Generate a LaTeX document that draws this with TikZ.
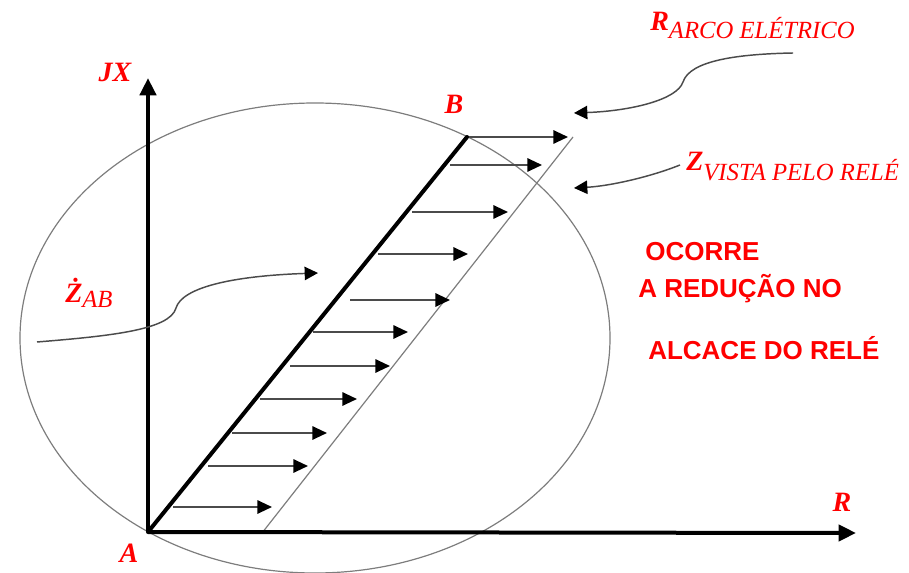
\documentclass[tikz,border=0pt]{standalone}
\usepackage{fontspec}
\setmainfont{Liberation Serif}
\setsansfont{Liberation Sans}
\usepackage{xcolor}
\usepackage{tikz}
\usetikzlibrary{arrows.meta}
\definecolor{lblred}{RGB}{255,0,0}
\definecolor{soft}{RGB}{75,75,75}
\definecolor{thin}{RGB}{125,125,125}
\newcommand{\lowsub}[2][6pt]{\raisebox{-#1}{\fontsize{18.5}{18.5}\selectfont\mdseries #2}}

\begin{document}
\begin{tikzpicture}[x=0.75pt,y=-0.75pt,
  ax/.style={-{Triangle[length=13pt,width=12pt]},line width=3pt},
  hv/.style={-{Triangle[length=11pt,width=10pt,color=black]},line width=1.5pt,color=soft},
  cv/.style={line width=1.1pt,color=soft},
  fine/.style={line width=0.9pt,color=thin},
  lbl/.style={text=lblred,font=\fontsize{21}{21}\selectfont\itshape\bfseries,inner sep=0pt},
  note/.style={text=lblred,font=\fontsize{19.5}{19.5}\selectfont\sffamily\bfseries,inner sep=0pt,anchor=base west}]
  \useasboundingbox (0,0) rectangle (909,573);
  % points of the diagram
  \coordinate (A) at (148,532);
  \coordinate (B) at (467,137);
  \coordinate (C) at (262,533);
  \coordinate (D) at (573,137);
  \coordinate (jxtip) at (148,78);
  \coordinate (rtip) at (856,533);
  % characteristic of the relay
  \draw[fine] (315,338) ellipse [x radius=295,y radius=235];
  \draw[fine] (C) -- (D);
  % arc resistance added to the line
  \foreach \y/\xs/\xe [count=\i] in {137/467/568,165/450/542,212/412/508,254/378/468,
      300/350/450,332/313/408,366/290/390,399/260/357,433/232/327,466/208/308,507/173/272}{
    \coordinate (hs\i) at (\xs,\y);
    \coordinate (he\i) at (\xe,\y);
    \draw[hv] (hs\i) -- (he\i);
  }
  \draw[line width=3pt,line cap=round] (A) -- (B);
  \draw[ax,line width=3.4pt] (A) -- (jxtip);
  \draw[ax] (A) -- (rtip);
  % labels
  \node[lbl] (jx) at (115,72) {JX};
  \node[lbl] (b) at (454,104) {B};
  \node[lbl] (a) at (129,553) {A};
  \node[lbl] (r) at (842,502) {R};
  \node[lbl,anchor=base west] (rarc) at (650,31) {R\lowsub{ARCO ELÉTRICO}};
  \node[lbl,anchor=base west] (zvis) at (686,171) {Z\lowsub[7pt]{VISTA PELO RELÉ}};
  \node[lbl,anchor=base west] (zab) at (65,302) {Ż\lowsub[4pt]{AB}};
  \node[note] (ocorre) at (645,261) {OCORRE};
  \node[note] (reducao) at (638,298) {A REDUÇÃO NO};
  \node[note] (alcace) at (648,359) {ALCACE DO RELÉ};
  % pointers
  \coordinate (rarcS) at (793,53);
  \coordinate (rarcT) at (574,113);
  \coordinate (zvisS) at (680,165);
  \coordinate (zvisT) at (574,188);
  \coordinate (zabS) at (37,342);
  \coordinate (zabT) at (318,273);
  \draw[cv,-{Triangle[length=10pt,width=10pt,color=black]}] (rarcS) .. controls (740,54) and (690,60) .. (683,82)
    .. controls (677,100) and (630,111) .. (rarcT);
  \draw[cv,-{Triangle[length=10pt,width=10pt,color=black]}] (zvisS) .. controls (650,177) and (610,186) .. (zvisT);
  \draw[cv,-{Triangle[length=10pt,width=10pt,color=black]}] (zabS) .. controls (110,336) and (170,330) .. (176,308)
    .. controls (182,288) and (230,276) .. (zabT);
\end{tikzpicture}
\end{document}
